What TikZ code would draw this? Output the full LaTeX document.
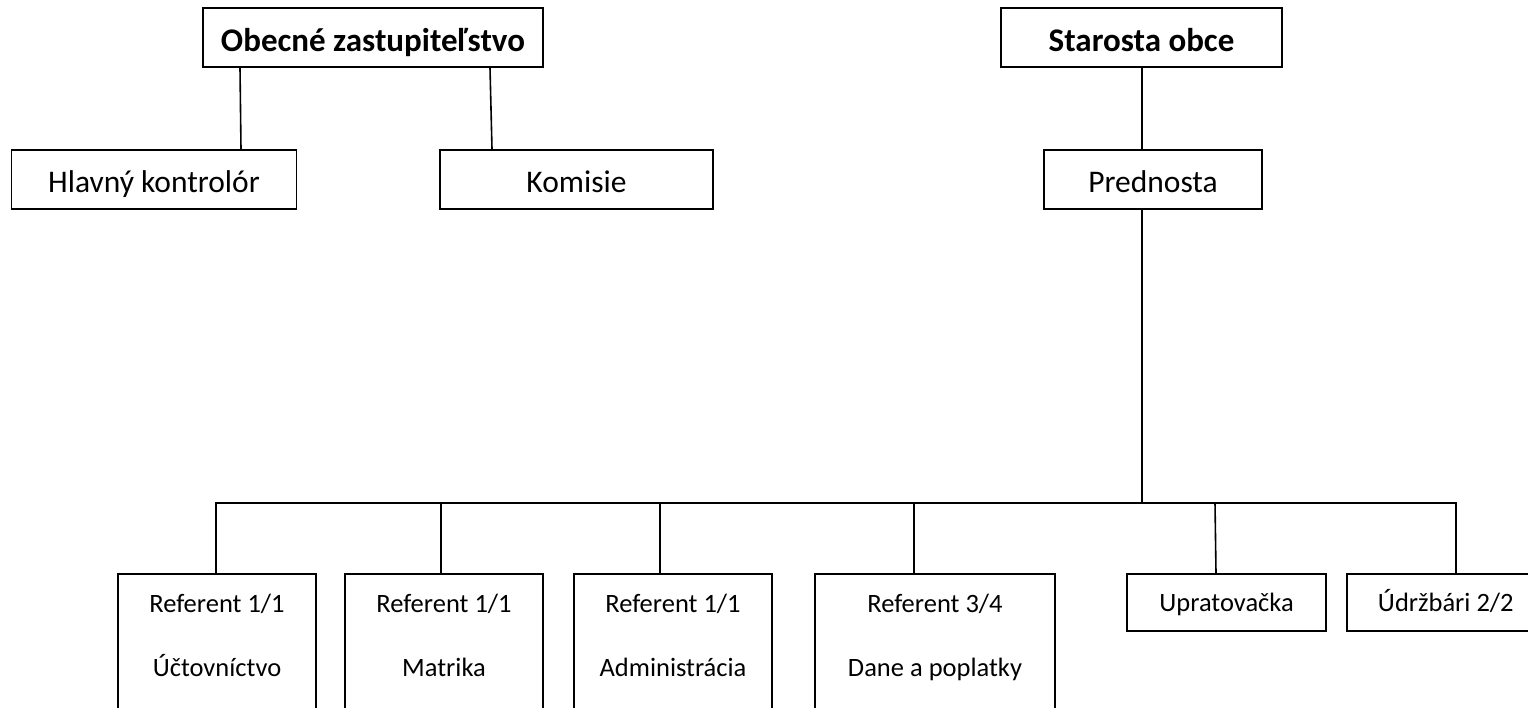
\documentclass[tikz,border=0pt]{standalone}
\usepackage{fontspec}
\setmainfont{Carlito}
\begin{document}
\begin{tikzpicture}[x=1pt,y=-1pt,
  box/.style={draw,line width=1.6pt,inner sep=0pt,rectangle},
  big/.style={font=\fontsize{31.5}{37}\selectfont,text height=28pt,text depth=3pt},
  bigb/.style={font=\fontsize{33}{37}\selectfont\bfseries,text height=30pt,text depth=3pt},
  small/.style={font=\fontsize{26.5}{64}\selectfont},
  smallone/.style={small,text height=20pt,text depth=2pt},
  conn/.style={line width=1.6pt}]
\useasboundingbox (0,0) rectangle (1528,707);
\clip (0,0) rectangle (1528,707);
% top level
\node[box,bigb,minimum width=340,minimum height=59] (oz) at (373,37.5) {Obecné zastupiteľstvo};
\node[box,bigb,minimum width=281,minimum height=59] (so) at (1141.5,37.5) {Starosta obce};
% second level
\node[box,big,minimum width=285,minimum height=59] (hk) at (154,179.5) {Hlavný kontrolór};
\node[box,big,minimum width=273,minimum height=59] (ko) at (576.5,179.5) {Komisie};
\node[box,big,minimum width=218,minimum height=59] (pr) at (1153,179.5) {Prednosta};
% bottom level
\node[box,small,align=center,minimum width=198,minimum height=186] (uc) at (217,667) {Referent 1/1\\Účtovníctvo\\\mbox{}};
\node[box,small,align=center,minimum width=198,minimum height=186] (ma) at (444,667) {Referent 1/1\\Matrika\\\mbox{}};
\node[box,small,align=center,minimum width=198,minimum height=186] (ad) at (673,667) {Referent 1/1\\Administrácia\\\mbox{}};
\node[box,small,align=center,minimum width=240,minimum height=186] (da) at (935,667) {Referent 3/4\\Dane a poplatky\\\mbox{}};
\node[box,smallone,minimum width=199,minimum height=57] (up) at (1226.5,602.5) {Upratovačka};
\node[box,smallone,minimum width=198,minimum height=57,anchor=west] (ud) at (1346,602.5) {Údržbári 2/2};
% connectors
\coordinate (bus) at (1142,503);
\draw[conn] (oz.south -| 240,0) -- (hk.north -| 241,0);
\draw[conn] (oz.south -| 490,0) -- (ko.north -| 492,0);
\draw[conn] (so.south -| bus) -- (pr.north -| bus);
\draw[conn] (pr.south -| bus) -- (bus);
\draw[conn] (uc.north -| 216,0) -- (216,503) -- (1456,503) -- (ud.north -| 1456,0);
\draw[conn] (ma.north -| 441,0) -- (441,503);
\draw[conn] (ad.north -| 660,0) -- (660,503);
\draw[conn] (da.north -| 914,0) -- (914,503);
\draw[conn] (up.north -| 1216,0) -- (1215,503);
\end{tikzpicture}
\end{document}
